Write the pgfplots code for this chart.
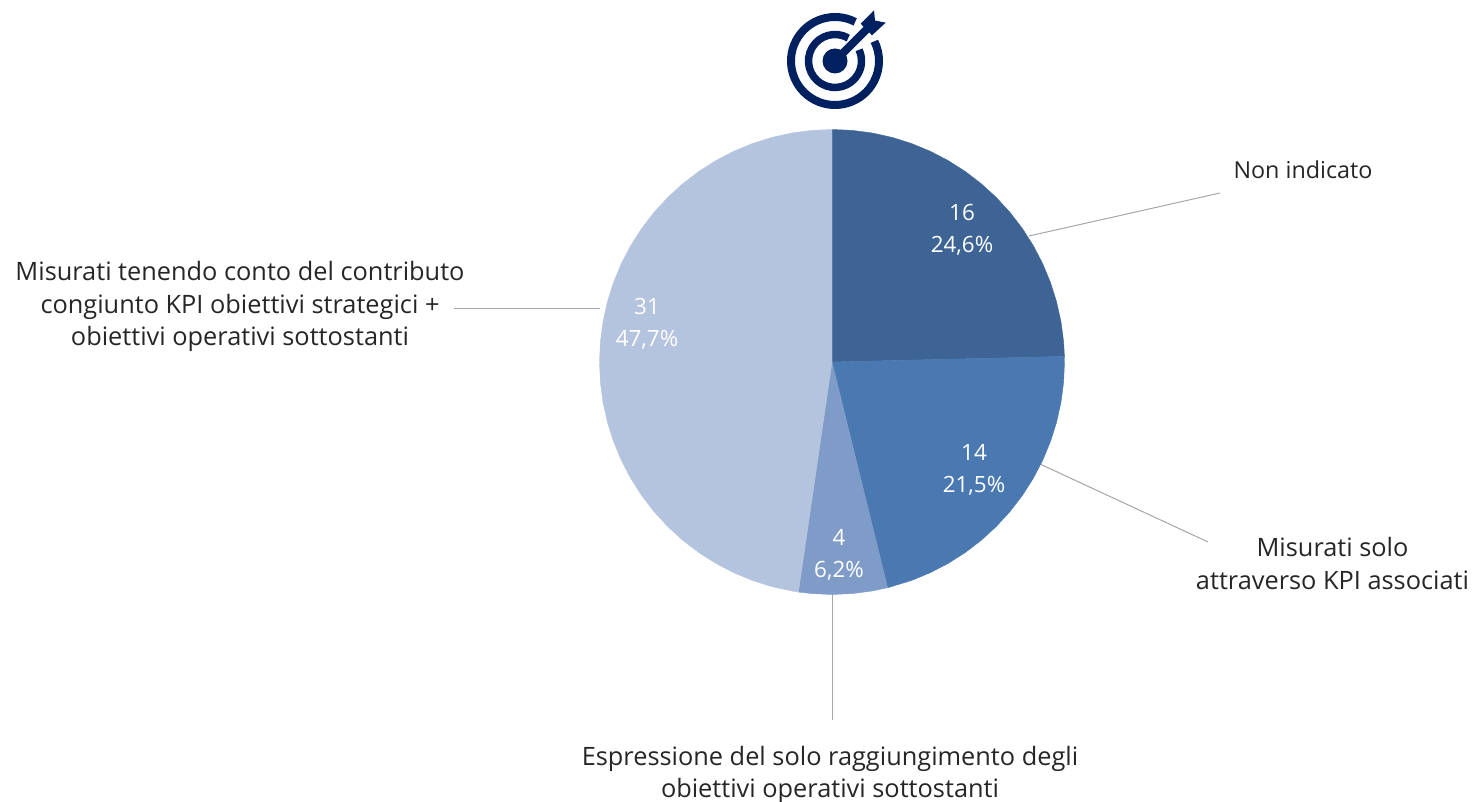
\documentclass[border=0pt]{standalone}
\usepackage{pgfplots}
\pgfplotsset{compat=1.18}
\usepgfplotslibrary{polar}
\usepackage{fontspec}
\setmainfont{Open Sans}
\definecolor{sA}{HTML}{3E6496}
\definecolor{sB}{HTML}{4A78B0}
\definecolor{sC}{HTML}{7F9CC9}
\definecolor{sD}{HTML}{B5C4DE}
\definecolor{lead}{HTML}{A6A6A6}
\definecolor{txt}{HTML}{262626}
\definecolor{navy}{HTML}{002060}
\newcommand{\lab}{\fontsize{19pt}{24.6pt}\selectfont}
\newcommand{\labs}{\fontsize{17.5pt}{24pt}\selectfont}
\newcommand{\labi}{\fontsize{16.8pt}{24pt}\selectfont}
\begin{document}
\begin{tikzpicture}[x=1pt,y=1pt]
\path[use as bounding box] (0,0) rectangle (1104pt,601.5pt);
\begin{axis}[name=base,at={(0pt,0pt)},anchor=south west,scale only axis,width=1104pt,height=601.5pt,
  xmin=0,xmax=1472,ymin=0,ymax=802,y dir=reverse,hide axis,clip=false]
\addplot[lead,line width=0.75pt] coordinates {(1029,236) (1220,193)};
\addplot[lead,line width=0.75pt] coordinates {(1040,464) (1208,542)};
\addplot[lead,line width=0.75pt] coordinates {(832,594) (832,720)};
\addplot[lead,line width=0.75pt] coordinates {(454,309) (600,309)};
\node[txt,align=center,font=\labs] at (axis cs:1303,169.5) {Non indicato};
\node[txt,align=center,font=\lab] at (axis cs:1332.5,563.5) {Misurati solo\\attraverso KPI associati};
\node[txt,align=center,font=\lab] at (axis cs:830,775) {Espressione del solo raggiungimento degli\\obiettivi operativi sottostanti};
\node[txt,align=center,font=\lab] at (axis cs:240,306.5) {Misurati tenendo conto del contributo\\congiunto KPI obiettivi strategici +\\obiettivi operativi sottostanti};
\end{axis}
\begin{polaraxis}[at={(624pt,330pt)},anchor=center,scale only axis,width=348.75pt,height=348.75pt,
  ymin=0,ymax=1,xmin=0,xmax=360,hide axis,clip=false]
% 16 of 65
\addplot[fill=sA,draw=sA,line width=0.3pt] coordinates {(0,0) (90,1) (85,1) (80,1) (75,1) (70,1) (65,1) (60,1) (55,1) (50,1) (45,1) (40,1) (35,1) (30,1) (25,1) (20,1) (15,1) (10,1) (5,1) (1.385,1)} -- cycle;
% 14 of 65
\addplot[fill=sB,draw=sB,line width=0.3pt] coordinates {(0,0) (1.385,1) (0,1) (-5,1) (-10,1) (-15,1) (-20,1) (-25,1) (-30,1) (-35,1) (-40,1) (-45,1) (-50,1) (-55,1) (-60,1) (-65,1) (-70,1) (-76.15,1)} -- cycle;
% 4 of 65
\addplot[fill=sC,draw=sC,line width=0.3pt] coordinates {(0,0) (-76.15,1) (-80,1) (-85,1) (-90,1) (-95,1) (-98.31,1)} -- cycle;
% 31 of 65
\addplot[fill=sD,draw=sD,line width=0.3pt] coordinates {(0,0) (-98.31,1) (-100,1) (-105,1) (-110,1) (-115,1) (-120,1) (-125,1) (-130,1) (-135,1) (-140,1) (-145,1) (-150,1) (-155,1) (-160,1) (-165,1) (-170,1) (-175,1) (-180,1) (-185,1) (-190,1) (-195,1) (-200,1) (-205,1) (-210,1) (-215,1) (-220,1) (-225,1) (-230,1) (-235,1) (-240,1) (-245,1) (-250,1) (-255,1) (-260,1) (-265,1) (-270,1)} -- cycle;
\end{polaraxis}
\begin{axis}[at={(0pt,0pt)},anchor=south west,scale only axis,width=1104pt,height=601.5pt,
  xmin=0,xmax=1472,ymin=0,ymax=802,y dir=reverse,hide axis,clip=false]
\node[white,align=center,font=\labi] at (axis cs:962,229.5) {16\\24,6\%};
\node[white,align=center,font=\labi] at (axis cs:974,469.5) {14\\21,5\%};
\node[white,align=center,font=\labi] at (axis cs:839,554.5) {4\\6,2\%};
\node[white,align=center,font=\labi] at (axis cs:647,323.5) {31\\47,7\%};
\end{axis}
% target icon
\begin{scope}[shift={(626.25pt,555.75pt)},x=0.75pt,y=0.75pt,navy]
\draw[line width=6pt] (62.7:44) arc[start angle=62.7,end angle=386.6,radius=44];
\draw[line width=5.6pt] (60:26.5) arc[start angle=60,end angle=385,radius=26.5];
\fill (0,0) circle[radius=12.5];
\draw[line width=6pt] (0,0) -- (33,33);
\fill (25.7,37.3) -- (39,50.7) -- (40,40.5) -- (50.7,38.3) -- (37,25.7) -- cycle;
\end{scope}
\end{tikzpicture}
\end{document}
